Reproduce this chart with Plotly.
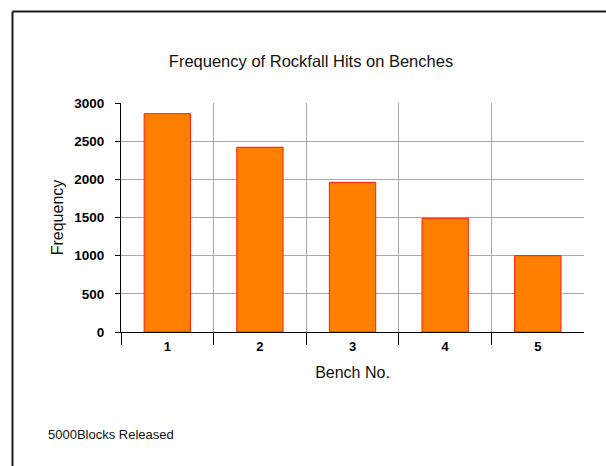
import plotly.graph_objects as go

# Bench numbers and hit counts
benches = ["1", "2", "3", "4", "5"]
hits = [2860, 2420, 1960, 1490, 1000]
y_ticks = [0, 500, 1000, 1500, 2000, 2500, 3000]

title_text = "Frequency of Rockfall Hits on Benches"
x_title = "Bench No."
y_title = "Frequency"
note_text = "5000Blocks Released"

FONT = "Liberation Sans, Arial, sans-serif"
GRID = "#a9a9a9"

W, H = 606, 466
L, R, T, B = 121, 22, 103, 134
pw, ph = W - L - R, H - T - B


def px_to_paper(px, py):
    return (px - L) / pw, (H - B - py) / ph


fig = go.Figure(
    go.Bar(
        x=benches,
        y=hits,
        width=0.5,
        marker=dict(color="#ff8000", line=dict(color="#ff1a00", width=1)),
    )
)

fig.update_layout(
    width=W,
    height=H,
    margin=dict(l=L, r=R, t=T, b=B, autoexpand=False),
    paper_bgcolor="white",
    plot_bgcolor="white",
    showlegend=False,
    title=dict(
        text=title_text,
        font=dict(family=FONT, size=16.5, color="#111111"),
        x=311 / W,
        xanchor="center",
        y=1 - 61 / H,
        yanchor="middle",
        xref="container",
        yref="container",
    ),
    xaxis=dict(
        type="category",
        range=[-0.5, 4.499],
        tickson="boundaries",
        ticks="outside",
        ticklen=12,
        tickwidth=1,
        tickcolor="black",
        ticklabelstandoff=2,
        showgrid=True,
        gridcolor=GRID,
        gridwidth=1,
        showline=True,
        linecolor="black",
        linewidth=1,
        tickfont=dict(family=FONT, size=13, color="black", weight="bold"),
        title=dict(text=x_title, font=dict(family=FONT, size=16, color="#111111"), standoff=14),
    ),
    yaxis=dict(
        range=[0, 3000],
        tickvals=y_ticks,
        ticks="outside",
        ticklen=5,
        tickwidth=1,
        tickcolor="black",
        ticklabelstandoff=8,
        showgrid=True,
        gridcolor=GRID,
        gridwidth=1,
        zeroline=False,
        showline=True,
        linecolor="black",
        linewidth=1,
        tickfont=dict(family=FONT, size=13.5, color="black", weight="bold"),
        title=dict(text=y_title, font=dict(family=FONT, size=16, color="#111111"), standoff=6),
    ),
)

# Frame lines along the top and left edges of the chart area
x0, y0 = px_to_paper(12.5, 11.5)
fig.add_shape(type="line", xref="paper", yref="paper", x0=x0, x1=px_to_paper(W + 5, 0)[0],
              y0=y0, y1=y0, line=dict(color="#1a1a1a", width=2))
fig.add_shape(type="line", xref="paper", yref="paper", x0=x0, x1=x0,
              y0=y0, y1=px_to_paper(0, H + 5)[1], line=dict(color="#1a1a1a", width=2))

# Footnote
nx, ny = px_to_paper(46, 434)
fig.add_annotation(
    text=note_text, xref="paper", yref="paper", x=nx, y=ny,
    xanchor="left", yanchor="middle", showarrow=False,
    font=dict(family=FONT, size=13, color="#111111"),
)

fig.write_html("out.html")
